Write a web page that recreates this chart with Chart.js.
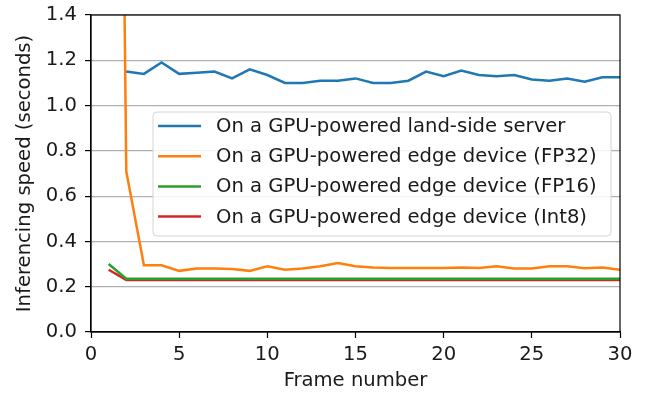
<!DOCTYPE html>
<html>
<head>
<meta charset="utf-8">
<script src="https://cdn.jsdelivr.net/npm/chart.js@4/dist/chart.umd.min.js"></script>
<style>
  html, body { margin: 0; padding: 0; background: #fff; }
  #wrap { width: 645px; height: 393px; }
</style>
</head>
<body>
<div id="wrap"><canvas id="c" width="645" height="393"></canvas></div>
<script>
// Frame index along the x axis
const frames = [1, 2, 3, 4, 5, 6, 7, 8, 9, 10, 11, 12, 13, 14, 15, 16, 17, 18, 19, 20, 21, 22, 23, 24, 25, 26, 27, 28, 29, 30];

// Inference time per frame (seconds)
const landServer = [null, 1.15, 1.14, 1.19, 1.14, 1.145, 1.15, 1.12, 1.16, 1.135, 1.10, 1.10, 1.11, 1.11, 1.12, 1.10, 1.10, 1.11, 1.15, 1.13, 1.155, 1.135, 1.13, 1.135, 1.115, 1.11, 1.12, 1.105, 1.125, 1.125];
const edgeFP32 = [8.0, 0.71, 0.295, 0.295, 0.27, 0.28, 0.28, 0.278, 0.27, 0.29, 0.275, 0.28, 0.29, 0.305, 0.29, 0.285, 0.283, 0.283, 0.283, 0.283, 0.285, 0.283, 0.29, 0.28, 0.28, 0.29, 0.29, 0.282, 0.285, 0.275];
const edgeFP16 = [0.30, 0.235, 0.235, 0.235, 0.235, 0.235, 0.235, 0.235, 0.235, 0.235, 0.235, 0.235, 0.235, 0.235, 0.235, 0.235, 0.235, 0.235, 0.235, 0.235, 0.235, 0.235, 0.235, 0.235, 0.235, 0.235, 0.235, 0.235, 0.235, 0.235];
const edgeInt8 = [0.275, 0.23, 0.23, 0.23, 0.23, 0.23, 0.23, 0.23, 0.23, 0.23, 0.23, 0.23, 0.23, 0.23, 0.23, 0.23, 0.23, 0.23, 0.23, 0.23, 0.23, 0.23, 0.23, 0.23, 0.23, 0.23, 0.23, 0.23, 0.23, 0.23];

const seriesLabels = [
  'On a GPU-powered land-side server',
  'On a GPU-powered edge device (FP32)',
  'On a GPU-powered edge device (FP16)',
  'On a GPU-powered edge device (Int8)'
];
const xTicks = [0, 5, 10, 15, 20, 25, 30];
const yTicks = [0, 0.2, 0.4, 0.6, 0.8, 1.0, 1.2, 1.4];

const colors = ['#1f77b4', '#ff7f0e', '#2ca02c', '#d62728'];
const FONT = 'DejaVu Sans';
const FS = 19.6;
const TEXT = '#1a1a1a';

const toPoints = arr => frames.map((f, i) => ({ x: f, y: arr[i] }));
const allSeries = [landServer, edgeFP32, edgeFP16, edgeInt8];

// Closes the frame on the top and right sides
const frameBox = {
  id: 'frameBox',
  afterDatasetsDraw(chart) {
    const { ctx, chartArea: a } = chart;
    ctx.save();
    ctx.strokeStyle = '#000';
    ctx.lineWidth = 1.2;
    ctx.strokeRect(a.left, a.top, a.right - a.left, a.bottom - a.top);
    ctx.restore();
  }
};

// Legend box placed inside the plot area
const innerLegend = {
  id: 'innerLegend',
  afterDraw(chart) {
    const { ctx, chartArea: a } = chart;
    const left = a.left + 62, right = a.right - 9, top = 112, bottom = 236;
    ctx.save();
    ctx.beginPath();
    ctx.roundRect(left, top, right - left, bottom - top, 4);
    ctx.fillStyle = 'rgba(255,255,255,0.85)';
    ctx.fill();
    ctx.strokeStyle = '#d4d4d4';
    ctx.lineWidth = 1;
    ctx.stroke();
    ctx.font = FS + 'px "' + FONT + '"';
    ctx.textBaseline = 'middle';
    chart.data.datasets.forEach((ds, i) => {
      const y = 126 + i * 30.2;
      ctx.beginPath();
      ctx.moveTo(left + 5, y);
      ctx.lineTo(left + 48, y);
      ctx.strokeStyle = ds.borderColor;
      ctx.lineWidth = 2.5;
      ctx.stroke();
      ctx.fillStyle = TEXT;
      ctx.fillText(ds.label, left + 63, y + 1);
    });
    ctx.restore();
  }
};

new Chart(document.getElementById('c'), {
  type: 'line',
  data: {
    datasets: allSeries.map((arr, i) => ({
      label: seriesLabels[i],
      data: toPoints(arr),
      borderColor: colors[i],
      backgroundColor: colors[i],
      borderWidth: 2.5,
      pointRadius: 0,
      tension: 0,
      spanGaps: false
    }))
  },
  options: {
    responsive: false,
    animation: false,
    layout: { padding: { top: 15, right: 25, left: 0, bottom: 0 } },
    plugins: {
      legend: { display: false },
      tooltip: { enabled: false }
    },
    scales: {
      x: {
        type: 'linear',
        min: 0,
        max: 30,
        afterBuildTicks: s => { s.ticks = xTicks.map(v => ({ value: v })); },
        afterFit: s => { s.height = 61; s.paddingLeft = 0; s.paddingRight = 0; },
        ticks: {
          color: TEXT,
          font: { family: FONT, size: FS },
          padding: 5,
          maxRotation: 0
        },
        grid: {
          drawOnChartArea: false,
          drawTicks: true,
          tickLength: 6,
          tickColor: '#000',
          tickWidth: 1.2
        },
        border: { color: '#000', width: 1.2 },
        title: {
          display: true,
          text: 'Frame number',
          color: TEXT,
          font: { family: FONT, size: FS },
          padding: { top: 0, bottom: 0 }
        }
      },
      y: {
        type: 'linear',
        min: 0,
        max: 1.4,
        afterBuildTicks: s => { s.ticks = yTicks.map(v => ({ value: v })); },
        afterFit: s => { s.width = 91; s.paddingTop = 0; s.paddingBottom = 0; },
        ticks: {
          color: TEXT,
          font: { family: FONT, size: FS },
          padding: 8,
          callback: v => Number(v).toFixed(1)
        },
        grid: {
          color: '#b0b0b0',
          lineWidth: 1.2,
          drawTicks: true,
          tickLength: 6,
          tickColor: '#000',
          tickWidth: 1.2
        },
        border: { color: '#000', width: 1.2 },
        title: {
          display: true,
          text: 'Inferencing speed (seconds)',
          color: TEXT,
          font: { family: FONT, size: FS },
          padding: { top: 13, bottom: 0 }
        }
      }
    }
  },
  plugins: [frameBox, innerLegend]
});
</script>
</body>
</html>
